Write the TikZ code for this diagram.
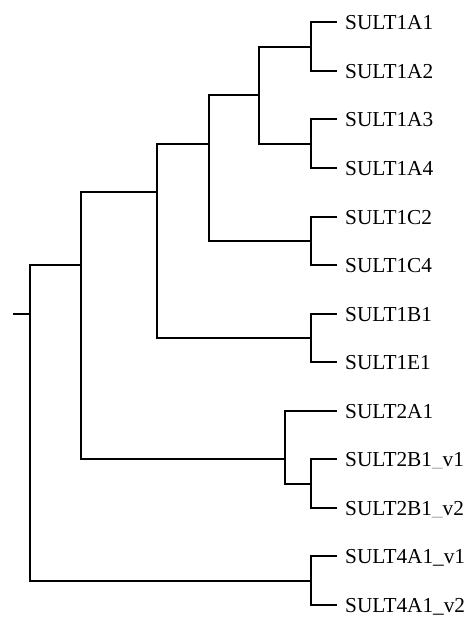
\documentclass[tikz,border=0pt]{standalone}
\usepackage{fontspec}
\setmainfont{Liberation Serif}
\usetikzlibrary{calc}
\begin{document}
\begin{tikzpicture}[x=1pt,y=-1pt,
  br/.style={line width=2pt,line join=miter},
  lab/.style={anchor=base west,inner sep=0pt,font=\fontsize{21.3}{25}\selectfont}]
\useasboundingbox (0,0) rectangle (469,618);
\def\ly#1{round(22.3+48.56*#1)}
% leaf tips
\foreach \i in {0,...,12}{\coordinate (t\i) at (337,{\ly{\i}});}
% labels
\node[lab] (n0) at ($(t0)+(8,7.2)$) {SULT1A1};
\node[lab] (n1) at ($(t1)+(8,7.2)$) {SULT1A2};
\node[lab] (n2) at ($(t2)+(8,7.2)$) {SULT1A3};
\node[lab] (n3) at ($(t3)+(8,7.2)$) {SULT1A4};
\node[lab] (n4) at ($(t4)+(8,7.2)$) {SULT1C2};
\node[lab] (n5) at ($(t5)+(8,7.2)$) {SULT1C4};
\node[lab] (n6) at ($(t6)+(8,7.2)$) {SULT1B1};
\node[lab] (n7) at ($(t7)+(8,7.2)$) {SULT1E1};
\node[lab] (n8) at ($(t8)+(8,7.2)$) {SULT2A1};
\node[lab] (n9) at ($(t9)+(8,7.2)$) {SULT2B1{\color{gray!70}\_}v1};
\node[lab] (n10) at ($(t10)+(8,7.2)$) {SULT2B1{\color{gray!70}\_}v2};
\node[lab] (n11) at ($(t11)+(8,7.2)$) {SULT4A1\_v1};
\node[lab] (n12) at ($(t12)+(8,7.2)$) {SULT4A1\_v2};
% internal nodes
\coordinate (a12) at (311,{\ly{0.5}});
\coordinate (a34) at (311,{\ly{2.5}});
\coordinate (c) at (311,{\ly{4.5}});
\coordinate (A) at (259,{\ly{1.5}});
\coordinate (AC) at (209,{\ly{2.5}});
\coordinate (B) at (311,{\ly{6.5}});
\coordinate (ACB) at (157,{\ly{3.5}});
\coordinate (T2B) at (311,{\ly{9.5}});
\coordinate (T2) at (285,{\ly{9}});
\coordinate (S12) at (81,{\ly{5}});
\coordinate (T4) at (311,{\ly{11.5}});
\coordinate (root) at (30,{\ly{6}});
\coordinate (stub) at (13,{\ly{6}});
% branches
\draw[br] (a12) |- (t0); \draw[br] (a12) |- (t1);
\draw[br] (a34) |- (t2); \draw[br] (a34) |- (t3);
\draw[br] (c) |- (t4); \draw[br] (c) |- (t5);
\draw[br] (B) |- (t6); \draw[br] (B) |- (t7);
\draw[br] (T2B) |- (t9); \draw[br] (T2B) |- (t10);
\draw[br] (T4) |- (t11); \draw[br] (T4) |- (t12);
\draw[br] (A) |- (a12); \draw[br] (A) |- (a34);
\draw[br] (AC) |- (A); \draw[br] (AC) |- (c);
\draw[br] (ACB) |- (AC); \draw[br] (ACB) |- (B);
\draw[br] (T2) |- (t8); \draw[br] (T2) |- (T2B);
\draw[br] (S12) |- (ACB); \draw[br] (S12) |- (T2);
\draw[br] (root) |- (S12); \draw[br] (root) |- (T4);
\draw[br] (stub) -- (root);
\end{tikzpicture}
\end{document}
